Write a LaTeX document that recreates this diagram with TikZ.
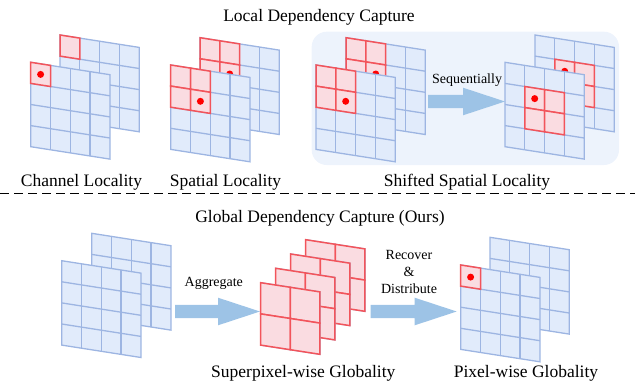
\documentclass[tikz,border=0pt]{standalone}
\usepackage{fontspec}
\setmainfont{Liberation Serif}
\usetikzlibrary{calc}

\definecolor{gridblue}{HTML}{9DB5E2}
\definecolor{fillblue}{HTML}{E1EBFB}
\definecolor{hotred}{HTML}{F2545B}
\definecolor{hotfill}{HTML}{FADCE1}
\definecolor{dotred}{HTML}{FF0000}
\definecolor{arrowblue}{HTML}{9DC3E6}
\definecolor{panelblue}{HTML}{EDF3FC}

\tikzset{
  gridfill/.style={fill=fillblue},
  gridline/.style={draw=gridblue,line width=1.3pt,line join=miter},
  hotcell/.style={draw=hotred,fill=hotfill,line width=1.5pt,line join=miter},
  pixdot/.style={fill=dotred},
  flow/.style={fill=arrowblue},
  label/.style={font=\fontsize{17.5}{21}\selectfont,anchor=base,inner sep=0pt},
  smalllabel/.style={font=\fontsize{14}{17}\selectfont,anchor=base,inner sep=0pt},
}

% feature map: #1,#2 top-left corner; #3 cell width; #4 cell height;
% #5 downward slope per cell; #6 cells per side; #7 extra drawing in cell units
\newcommand\fmap[7]{%
  \begin{scope}[shift={(#1,#2)},x={(#3pt,-#5pt)},y={(0pt,-#4pt)}]
    \pgfmathtruncatemacro\fmlast{#6-1}
    \fill[gridfill] (0,0)--(#6,0)--(#6,#6)--(0,#6)--cycle;
    \foreach \k in {1,...,\fmlast}{
      \draw[gridline] (\k,0)--(\k,#6);
      \draw[gridline] (0,\k)--(#6,\k);
    }
    \draw[gridline] (0,0)--(#6,0)--(#6,#6)--(0,#6)--cycle;
    #7
  \end{scope}}
\newcommand\hc[2]{\filldraw[hotcell] (#1,#2)--++(1,0)--++(0,1)--++(-1,0)--cycle;}
\newcommand\pdot[2]{\fill[pixdot] (#1,#2) circle[radius=3.5pt];}
% 4x4 feature map
\newcommand\stdmap[3]{\fmap{#1}{#2}{19.8}{21.1}{3.1}{4}{#3}}
% 2x2 superpixel map, fully highlighted
\newcommand\spmap[2]{\fmap{#1}{#2}{29.6}{31.2}{4.6}{2}{\hc{0}{0}\hc{1}{0}\hc{0}{1}\hc{1}{1}}}
% wide block arrow between two named coordinates
\newcommand\blockarrow[2]{%
  \fill[flow] let \p1=(#1), \p2=(#2) in
    (\x1,\y1+6.6pt) -- (\x2-42pt,\y1+6.6pt) -- (\x2-42pt,\y1+13.8pt) --
    (\x2,\y1) -- (\x2-42pt,\y1-13.8pt) -- (\x2-42pt,\y1-6.6pt) --
    (\x1,\y1-6.6pt) -- cycle;}

\begin{document}
\begin{tikzpicture}[x=1pt,y=-1pt]
  \useasboundingbox (0,0) rectangle (635,383);

  % ---------- local dependency ----------
  \node[label] (ltitle) at (319,21.5) {Local Dependency Capture};

  % channel locality
  \stdmap{60}{35}{\hc{0}{0}}
  \stdmap{30.7}{62.3}{\hc{0}{0}\pdot{0.5}{0.5}}
  \node[label] (chan) at (81.5,186.3) {Channel Locality};

  % spatial locality
  \stdmap{200}{37.7}{\hc{0}{0}\hc{1}{0}\hc{0}{1}\hc{1}{1}\pdot{1.5}{1.5}}
  \stdmap{170.7}{65}{\hc{0}{0}\hc{1}{0}\hc{0}{1}\hc{1}{1}\pdot{1.5}{1.5}}
  \node[label] (spat) at (225.5,186.3) {Spatial Locality};

  % shifted spatial locality
  \fill[panelblue,rounded corners=15pt] (311.7,31.7) rectangle (619,165);
  \stdmap{346}{37.7}{\hc{0}{0}\hc{1}{0}\hc{0}{1}\hc{1}{1}\pdot{1.5}{1.5}}
  \stdmap{316}{65}{\hc{0}{0}\hc{1}{0}\hc{0}{1}\hc{1}{1}\pdot{1.5}{1.5}}
  \stdmap{535}{35}{\hc{1}{1}\hc{2}{1}\hc{1}{2}\hc{2}{2}\pdot{1.5}{1.5}}
  \stdmap{505}{62.3}{\hc{1}{1}\hc{2}{1}\hc{1}{2}\hc{2}{2}\pdot{1.5}{1.5}}
  \coordinate (seqA) at (428,101.5);
  \coordinate (seqB) at (505,101.5);
  \blockarrow{seqA}{seqB}
  \node[smalllabel] (seq) at (467,83.3) {Sequentially};
  \node[label] (shift) at (467,186.3) {Shifted Spatial Locality};

  % separator
  \coordinate (sepL) at (0,193.5);
  \coordinate (sepR) at (635,193.5);
  \draw[line width=1.3pt,dash pattern=on 9pt off 5pt] (sepL) -- (sepR);

  % ---------- global dependency ----------
  \node[label] (gtitle) at (320,222.3) {Global Dependency Capture (Ours)};

  \stdmap{91.7}{233.3}{}
  \stdmap{61.7}{260.7}{}
  \coordinate (aggA) at (175,311.5);
  \coordinate (aggB) at (260,311.5);
  \blockarrow{aggA}{aggB}
  \node[smalllabel] (agg) at (213.8,286) {Aggregate};

  \spmap{305.7}{239.7}
  \spmap{290.7}{254}
  \spmap{275.7}{268.3}
  \spmap{260.7}{282.7}
  \node[label] (sp) at (303.3,377.3) {Superpixel-wise Globality};

  \coordinate (recA) at (370.7,311.5);
  \coordinate (recB) at (456.7,311.5);
  \blockarrow{recA}{recB}
  \node[smalllabel] (rec1) at (409,259.3) {Recover};
  \node[smalllabel] (rec2) at (409,276) {\&};
  \node[smalllabel] (rec3) at (409,293.3) {Distribute};

  \stdmap{490}{237.3}{}
  \stdmap{460.7}{265}{\hc{0}{0}\pdot{0.5}{0.5}}
  \node[label] (px) at (526,377.3) {Pixel-wise Globality};
\end{tikzpicture}
\end{document}
